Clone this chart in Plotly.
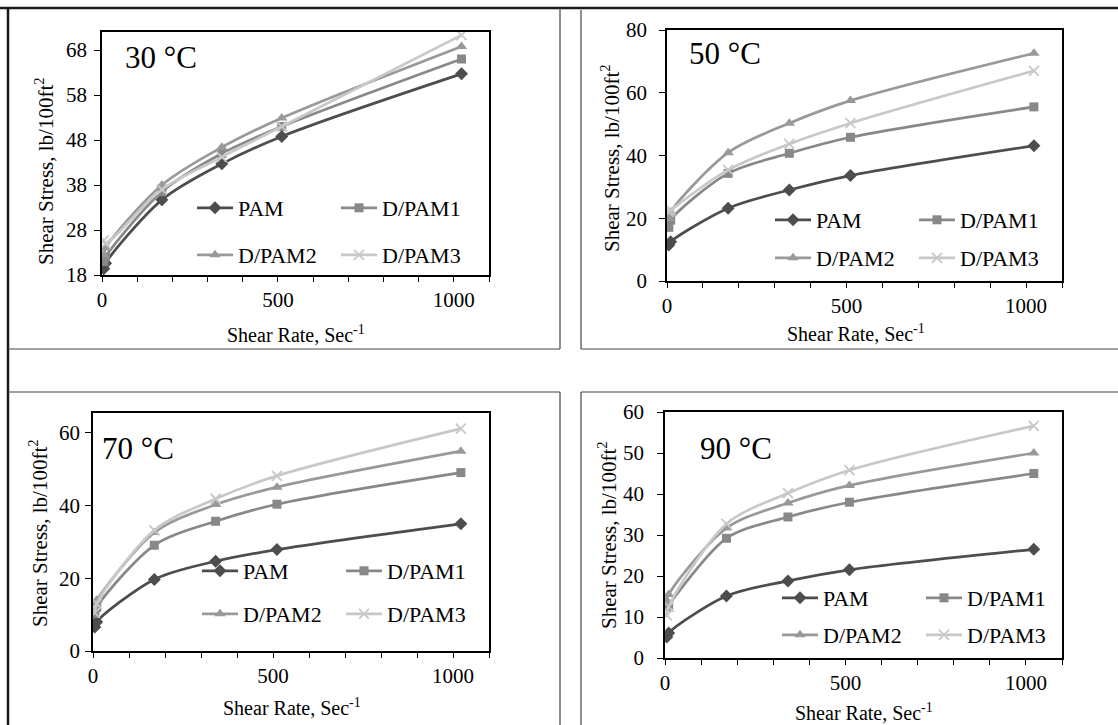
import plotly.graph_objects as go

W, H = 1118, 725

# ---------------- data ----------------
shear_rate = [5.1, 10.2, 170.3, 340.6, 510.9, 1021.8]
series_names = ["PAM", "D/PAM1", "D/PAM2", "D/PAM3"]
panel_titles = ["30 °C", "50 °C", "70 °C", "90 °C"]

pam_30 = [19.4, 20.6, 34.7, 42.7, 48.8, 62.7]
dpam1_30 = [21.0, 22.0, 36.5, 45.0, 51.0, 66.0]
dpam2_30 = [22.5, 24.0, 38.0, 46.4, 52.9, 68.8]
dpam3_30 = [25.7, 25.0, 37.0, 44.2, 51.0, 71.3]

pam_50 = [11.5, 12.5, 23.2, 29.0, 33.6, 43.1]
dpam1_50 = [17.1, 19.4, 34.3, 40.7, 45.8, 55.5]
dpam2_50 = [20.0, 22.0, 40.9, 50.3, 57.5, 72.6]
dpam3_50 = [22.0, 22.5, 35.4, 43.7, 50.3, 67.0]

pam_70 = [6.6, 8.0, 19.7, 24.7, 27.9, 35.0]
dpam1_70 = [10.3, 12.0, 29.1, 35.7, 40.4, 49.1]
dpam2_70 = [13.0, 14.0, 32.6, 40.3, 45.1, 55.0]
dpam3_70 = [10.5, 13.0, 33.2, 41.9, 48.2, 61.2]

pam_90 = [5.1, 6.1, 15.1, 18.8, 21.5, 26.5]
dpam1_90 = [12.5, 13.0, 29.2, 34.4, 38.0, 45.0]
dpam2_90 = [14.0, 15.5, 31.7, 37.8, 42.1, 50.0]
dpam3_90 = [10.4, 12.5, 32.7, 40.2, 45.8, 56.6]

panel_data = [
    [pam_30, dpam1_30, dpam2_30, dpam3_30],
    [pam_50, dpam1_50, dpam2_50, dpam3_50],
    [pam_70, dpam1_70, dpam2_70, dpam3_70],
    [pam_90, dpam1_90, dpam2_90, dpam3_90],
]

y_ranges = [[18, 72], [0, 80], [0, 65.5], [0, 60]]
y_tick0 = [18, 0, 0, 0]
y_dtick = [10, 20, 20, 10]
x_ticks = [0, 500, 1000]

# ---------------- styling / layout (pixels) ----------------
FONT = "Liberation Serif, Times New Roman, serif"
colors = ["#4d4d4d", "#888888", "#999999", "#c8c8c8"]
symbols = ["diamond", "square", "triangle-up", "x-thin"]
msizes = [10, 9, 10, 10]

# plot area boxes: left, right, top, bottom
boxes = [(102, 489, 32, 275), (667, 1062, 30, 281), (93, 489, 413, 651), (665, 1062, 412, 658)]
ystandoff = [3, 8, 1, 9]
title_pos = [(123, 57), (687, 53), (100, 448), (698, 448)]
xtitle_pos = [(296, 334), (856, 333), (292, 707), (864, 712)]
ytitle_pos = [(45, 171), (610, 158), (38, 533), (607, 535)]
legend_pos = [  # (x of first line sample, row1 y, row2 y)
    (197, 208, 255), (775, 220, 258), (202, 571, 614), (782, 598, 635)
]


def px(v):
    return v / W


def py(v):
    return 1 - v / H


fig = go.Figure()
layout = dict(
    width=W, height=H,
    margin=dict(l=0, r=0, t=0, b=0, pad=0, autoexpand=False),
    paper_bgcolor="white", plot_bgcolor="white",
    font=dict(family=FONT, color="black", size=20),
    showlegend=True,
)
annotations = []
shapes = []

for i in range(4):
    sfx = "" if i == 0 else str(i + 1)
    xid, yid = "x" + sfx, "y" + sfx
    l, r, t, b = boxes[i]
    lg1 = "legend" if i == 0 else f"legend{2 * i + 1}"
    lg2 = f"legend{2 * i + 2}"
    for k in range(4):
        fig.add_trace(go.Scatter(
            x=shear_rate, y=panel_data[i][k], name=series_names[k],
            xaxis=xid, yaxis=yid,
            mode="lines+markers",
            line=dict(color=colors[k], width=2.7, shape="spline", smoothing=0.9),
            marker=dict(symbol=symbols[k], size=msizes[k], color=colors[k],
                        line=dict(color=colors[k], width=1.8 if k == 3 else 0)),
            legend=lg1 if k < 2 else lg2,
            showlegend=True,
        ))
    layout["xaxis" + sfx] = dict(
        domain=[px(l), px(r)], range=[0, 1100], anchor=yid, automargin=False,
        tickvals=x_ticks, ticks="outside", ticklen=5, tickwidth=1.2, tickcolor="black",
        minor=dict(dtick=100, tick0=0, ticks="outside", ticklen=5, tickwidth=1.2, tickcolor="black", showgrid=False),
        showline=True, mirror=True, linecolor="black", linewidth=1.8,
        showgrid=False, zeroline=False,
        tickfont=dict(family=FONT, size=21, color="black"),
        fixedrange=True,
    )
    layout["yaxis" + sfx] = dict(
        domain=[py(b), py(t)], range=y_ranges[i], anchor=xid, automargin=False,
        tick0=y_tick0[i], dtick=y_dtick[i], ticks="outside", ticklen=6, tickwidth=1.2, tickcolor="black",
        showline=True, mirror=True, linecolor="black", linewidth=1.8,
        showgrid=False, zeroline=False, ticklabelstandoff=ystandoff[i],
        tickfont=dict(family=FONT, size=21, color="black"),
        fixedrange=True,
    )
    lx, r1, r2 = legend_pos[i]
    for lg, ry in ((lg1, r1), (lg2, r2)):
        layout[lg] = dict(
            x=px(lx - 5), y=py(ry), xanchor="left", yanchor="middle",
            orientation="h", entrywidth=93, entrywidthmode="pixels", itemwidth=36,
            bgcolor="rgba(0,0,0,0)", borderwidth=0,
            font=dict(family=FONT, size=22, color="black"),
        )
    tx, ty = title_pos[i]
    annotations.append(dict(text=panel_titles[i], x=px(tx), y=py(ty), xref="paper", yref="paper",
                            xanchor="left", yanchor="middle", showarrow=False,
                            font=dict(family=FONT, size=31, color="black")))
    ax_, ay_ = xtitle_pos[i]
    annotations.append(dict(text="Shear Rate, Sec<sup>-1</sup>", x=px(ax_), y=py(ay_), xref="paper", yref="paper",
                            xanchor="center", yanchor="middle", showarrow=False,
                            font=dict(family=FONT, size=20, color="black")))
    bx_, by_ = ytitle_pos[i]
    annotations.append(dict(text="Shear Stress, lb/100ft<sup>2</sup>", x=px(bx_), y=py(by_), xref="paper", yref="paper",
                            xanchor="center", yanchor="middle", showarrow=False, textangle=-90,
                            font=dict(family=FONT, size=21, color="black")))


def hline(x0, x1, y, w=1.2, c="#444444"):
    shapes.append(dict(type="line", xref="paper", yref="paper", x0=px(x0), x1=px(x1), y0=py(y), y1=py(y),
                       line=dict(color=c, width=w)))


def vline(x, y0, y1, w=1.2, c="#444444"):
    shapes.append(dict(type="line", xref="paper", yref="paper", x0=px(x), x1=px(x), y0=py(y0), y1=py(y1),
                       line=dict(color=c, width=w)))


hline(0, W, 8, 2.5, "#1a1a1a")
vline(8, 8, H, 2.5, "#1a1a1a")
vline(560, 8, 349)
hline(8, 560, 349)
hline(8, 560, 392)
vline(560, 392, H)
vline(581, 10, 349)
hline(581, W, 349)
hline(581, W, 392)
vline(581, 392, H)

layout["annotations"] = annotations
layout["shapes"] = shapes
fig.update_layout(**layout)
fig.write_html(
    "out.html",
    config={"displayModeBar": False},
    post_script="document.body.style.margin='0';document.body.style.overflow='hidden';",
)
